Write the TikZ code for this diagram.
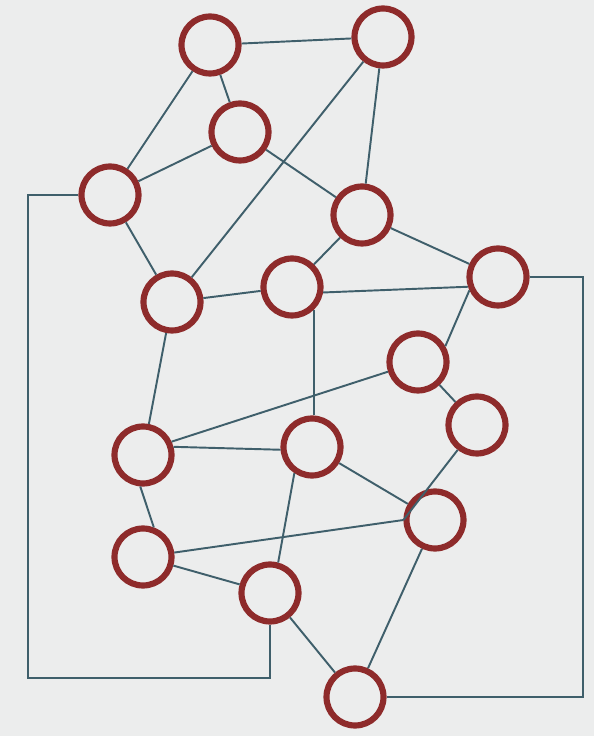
\documentclass[tikz,border=0pt]{standalone}
\usepackage{tikz}
\definecolor{Paper}{HTML}{ECEDED}
\definecolor{Ring}{HTML}{8E2B2B}
\definecolor{Wire}{HTML}{3F5F6B}

\begin{document}
\begin{tikzpicture}[
  vertex/.style={circle,draw=Ring,line width=3.5pt,minimum size=1.14cm,inner sep=0pt},
  link/.style={draw=Wire,line width=1.1pt}
]
\fill[Paper] (0,0) rectangle (11.88,14.72);
\useasboundingbox (0,0) rectangle (11.88,14.72);
\node[vertex] (v1) at (4.20,13.82) {};
\node[vertex] (v2) at (7.66,13.98) {};
\node[vertex] (v3) at (4.80,12.08) {};
\node[vertex] (v4) at (2.20,10.82) {};
\node[vertex] (v5) at (7.24,10.42) {};
\node[vertex] (v6) at (3.44,8.68) {};
\node[vertex] (v7) at (5.84,8.98) {};
\node[vertex] (v8) at (9.96,9.18) {};
\node[vertex] (v9) at (8.36,7.48) {};
\node[vertex] (v10) at (9.54,6.22) {};
\node[vertex] (v11) at (2.86,5.62) {};
\node[vertex] (v12) at (6.24,5.78) {};
\node[vertex] (v13) at (8.70,4.32) {};
\node[vertex] (v14) at (2.86,3.58) {};
\node[vertex] (v15) at (5.40,2.86) {};
\node[vertex] (v16) at (7.10,0.78) {};
\coordinate (lcorner) at (0.56,1.16);
\coordinate (rcorner) at (11.66,0.78);
\draw[link] (v1) -- (v2);
\draw[link] (v1) -- (v3);
\draw[link] (v1) -- (v4);
\draw[link] (v3) -- (v4);
\draw[link] (v3) -- (v5);
\draw[link] (v2) -- (v5);
\draw[link] (v2) -- (v6);
\draw[link] (v4) -- (v6);
\draw[link] (v6) -- (v7);
\draw[link] (v5) -- (v7);
\draw[link] (v5) -- (v8);
\draw[link] (v7.-10) -- (v8.198);
\draw[link] (v8.205) -- (v9.30);
\draw[link] (v9) -- (v10);
\draw[link] (v9) -- (v11.25);
\draw[link] (v6) -- (v11);
\draw[link] (v7.-47) -- (v7.-47 |- v12.north);
\draw[link] (v11.15) -- (v12.185);
\draw[link] (v12) -- (v13);
\draw[link] (v10) -- (v13.west);
\draw[link] (v14) -- (v13.west);
\draw[link] (v11.-95) -- (v14.70);
\draw[link] (v14) -- (v15);
\draw[link] (v12.-124) -- (v15.75);
\draw[link] (v15) -- (v16);
\draw[link] (v13) -- (v16);
\draw[link] (v4.west) -| (lcorner) -| (v15.south);
\draw[link] (v8.east) -| (rcorner) -- (v16.east);
\end{tikzpicture}
\end{document}
